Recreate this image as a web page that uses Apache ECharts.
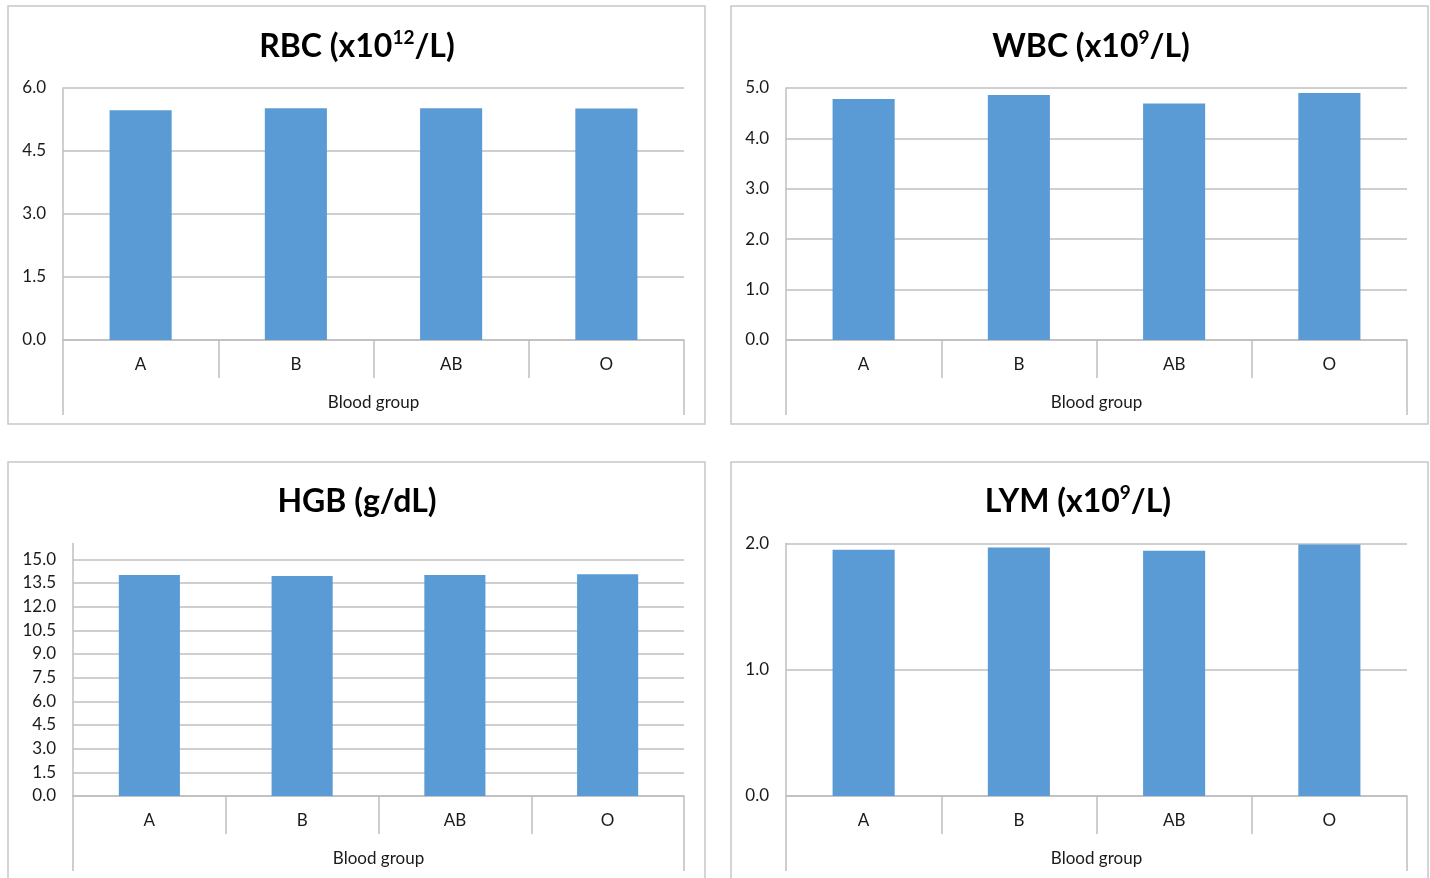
<!DOCTYPE html>
<html><head><meta charset="utf-8">
<script src="https://cdn.jsdelivr.net/npm/echarts@6/dist/echarts.min.js"></script>
<style>html,body{margin:0;padding:0;background:#fff}#c{width:1430px;height:878px}</style>
</head><body><div id="c"></div>
<script>
const categories = ['A', 'B', 'AB', 'O'];
const rbcValues = [5.47, 5.52, 5.52, 5.51];
const wbcValues = [4.78, 4.86, 4.69, 4.90];
const hgbValues = [14.00, 13.94, 14.00, 14.05];
const lymValues = [1.95, 1.968, 1.942, 1.992];
const xAxisName = 'Blood group';

const panels = [
  { title: '{t|RBC (x10}{s|12}{t|/L)}', values: rbcValues, max: 6, interval: 1.5, box: [8, 6, 697, 418], grid: { left: 63, top: 88, width: 621, height: 252 }, tc: 352, ty: 42 },
  { title: '{t|WBC (x10}{s|9}{t|/L)}', values: wbcValues, max: 5, interval: 1, box: [731, 6, 697, 418], grid: { left: 786, top: 88, width: 621, height: 252 }, tc: 1086, ty: 42 },
  { title: '{t|HGB (g/dL)}', values: hgbValues, max: 16, interval: 1.5, box: [8, 462, 697, 430], grid: { left: 73, top: 543.5, width: 611, height: 252.5 }, tc: 352, ty: 497 },
  { title: '{t|LYM (x10}{s|9}{t|/L)}', values: lymValues, max: 2, interval: 1, box: [731, 462, 697, 430], grid: { left: 786, top: 543.5, width: 621, height: 252.5 }, tc: 1073, ty: 497 }
];

const gray = '#bfbfbf';
const font = 'Lato, "Open Sans", sans-serif';

const option = { animation: false, title: [], grid: [], xAxis: [], yAxis: [], series: [], graphic: [] };

panels.forEach((p, i) => {
  option.graphic.push({ type: 'rect', shape: { x: p.box[0], y: p.box[1], width: p.box[2], height: p.box[3] }, style: { fill: 'none', stroke: '#c8c8c8', lineWidth: 1.5 }, z: -1 });
  option.title.push({
    text: p.title, left: p.tc, top: p.ty, textAlign: 'center', textVerticalAlign: 'middle',
    textStyle: { rich: {
      t: { fontFamily: font, fontWeight: 'bold', fontSize: 32, color: '#000', lineHeight: 38 },
      s: { fontFamily: font, fontWeight: 'bold', fontSize: 19, color: '#000', verticalAlign: 'top', lineHeight: 22 }
    } }
  });
  option.grid.push(Object.assign({ containLabel: false }, p.grid));
  const nTicks = Math.floor(p.max / p.interval + 1e-9) + 1;
  const needExtra = Math.abs((nTicks - 1) * p.interval - p.max) > 1e-9;
  const colors = [];
  for (let k = 0; k < nTicks; k++) colors.push(gray);
  if (needExtra) colors.push('rgba(0,0,0,0)');
  option.xAxis.push({
    type: 'category', gridIndex: i, data: categories, position: 'bottom',
    axisLine: { show: true, lineStyle: { color: gray, width: 1.5 } },
    axisTick: { show: true, length: 38, lineStyle: { color: gray, width: 1.5 } },
    axisLabel: { margin: 16, fontFamily: font, fontSize: 17, color: '#1a1a1a' },
    name: xAxisName, nameLocation: 'middle', nameGap: 54,
    nameTextStyle: { fontFamily: font, fontSize: 17, color: '#1a1a1a' }
  });
  option.xAxis.push({
    type: 'value', gridIndex: i, min: 0, max: 1, interval: 1, position: 'bottom',
    axisLine: { show: false }, splitLine: { show: false }, axisLabel: { show: false },
    axisTick: { show: true, length: 75, lineStyle: { color: gray, width: 1.5 } }
  });
  option.yAxis.push({
    type: 'value', gridIndex: i, min: 0, max: p.max, interval: p.interval,
    axisLine: { show: true, lineStyle: { color: gray, width: 1.5 } },
    axisTick: { show: false },
    splitLine: { show: true, lineStyle: { color: colors, width: 1.5 } },
    axisLabel: { margin: 17, fontFamily: font, fontSize: 17, color: '#1a1a1a', showMaxLabel: !needExtra,
      formatter: v => v.toFixed(1) }
  });
  option.series.push({
    type: 'bar', xAxisIndex: i * 2, yAxisIndex: i, data: p.values, barWidth: '40%',
    itemStyle: { color: '#5b9bd5' }
  });
});

const chart = echarts.init(document.getElementById('c'), null, { renderer: 'canvas' });
chart.setOption(option);
</script>
</body></html>
